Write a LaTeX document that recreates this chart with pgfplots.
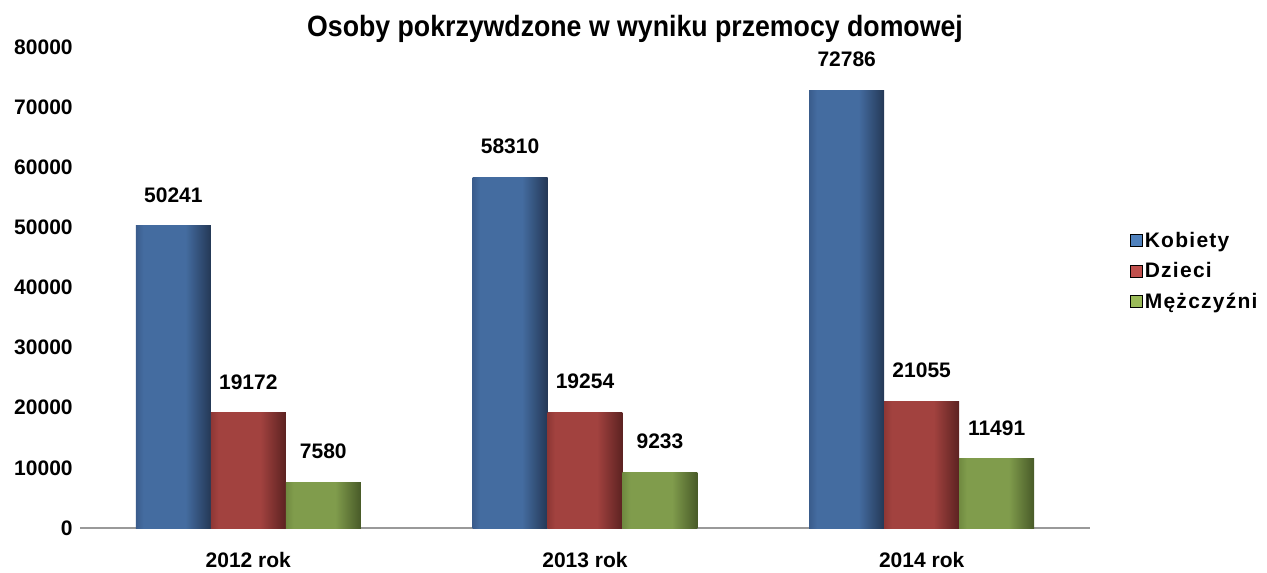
\documentclass[border=0pt]{standalone}
\usepackage{pgfplots}
\pgfplotsset{compat=1.18}
\usepackage{fontspec}
\setmainfont{Liberation Sans}
\usepackage{graphicx}
\definecolor{bL}{RGB}{58,92,140}
\definecolor{bM}{RGB}{68,108,160}
\definecolor{bD}{RGB}{36,56,86}
\definecolor{rL}{RGB}{142,55,53}
\definecolor{rM}{RGB}{162,66,63}
\definecolor{rD}{RGB}{92,34,33}
\definecolor{gL}{RGB}{112,138,64}
\definecolor{gM}{RGB}{128,156,76}
\definecolor{gD}{RGB}{72,90,40}
\definecolor{legB}{RGB}{79,129,189}
\definecolor{legR}{RGB}{192,80,77}
\definecolor{legG}{RGB}{155,187,89}
\pgfdeclarehorizontalshading{bshade}{100bp}{color(0bp)=(bL); color(25bp)=(bL); color(30bp)=(bM); color(58bp)=(bM); color(75bp)=(bD); color(100bp)=(bD)}
\pgfdeclarehorizontalshading{rshade}{100bp}{color(0bp)=(rL); color(25bp)=(rL); color(30bp)=(rM); color(58bp)=(rM); color(75bp)=(rD); color(100bp)=(rD)}
\pgfdeclarehorizontalshading{gshade}{100bp}{color(0bp)=(gL); color(25bp)=(gL); color(30bp)=(gM); color(58bp)=(gM); color(75bp)=(gD); color(100bp)=(gD)}
\pgfplotsset{
  kob/.style={draw=none, shading=bshade, bar shift=-0.2227, forget plot},
  dzi/.style={draw=none, shading=rshade, bar shift=0, forget plot},
  mez/.style={draw=none, shading=gshade, bar shift=0.2227, forget plot},
}
\begin{document}
\begin{tikzpicture}
\path[use as bounding box] (0,0) rectangle (950.25pt,429pt);
\begin{axis}[
  at={(60pt,33pt)}, anchor=south west,
  scale only axis, width=757.5pt, height=360.75pt,
  xmin=-0.5, xmax=2.5, ymin=0, ymax=80000,
  ybar, bar width=0.2227,
  xtick={0,1,2}, xticklabels={2012 rok,2013 rok,2014 rok},
  ytick={0,10000,...,80000},
  scaled y ticks=false,
  /pgf/number format/assume math mode=true,
  yticklabel={\pgfmathprintnumber[fixed,1000 sep={}]{\tick}},
  major tick length=0pt,
  axis x line*=bottom, axis y line*=left,
  x axis line style={draw=gray!80, line width=1pt, -},
  y axis line style={draw=none},
  ticklabel style={font=\fontsize{15.75pt}{18pt}\selectfont\bfseries},
  yticklabel style={xshift=-2pt},
  xticklabel style={yshift=-15pt},
  nodes near coords,
  nodes near coords style={font=\fontsize{15.75pt}{18pt}\selectfont\bfseries, yshift=14pt},
  point meta=explicit symbolic,
  legend style={at={(1.035,0.534)}, anchor=west, draw=none, fill=none,
    font=\fontsize{15.75pt}{18pt}\selectfont\bfseries\addfontfeature{LetterSpace=6}, row sep=6pt,
    legend cell align=left},
  legend image code/.code={\fill[#1] (0pt,-4.5pt) rectangle (9pt,4.5pt);},
  title={\scalebox{0.91}[1]{\fontsize{22pt}{26pt}\selectfont\bfseries Osoby pokrzywdzone w wyniku przemocy domowej}},
  title style={at={(0.5,1)}, anchor=south, yshift=-6pt, xshift=37.5pt},
  clip=false,
]
\addplot[kob] coordinates {(0,50241)[50241]};
\addplot[kob] coordinates {(1,58310)[58310]};
\addplot[kob] coordinates {(2,72786)[72786]};
\addplot[dzi] coordinates {(0,19172)[19172]};
\addplot[dzi] coordinates {(1,19254)[19254]};
\addplot[dzi] coordinates {(2,21055)[21055]};
\addplot[mez] coordinates {(0,7580)[7580]};
\addplot[mez] coordinates {(1,9233)[9233]};
\addplot[mez] coordinates {(2,11491)[11491]};
\addlegendimage{fill=legB}\addlegendentry{Kobiety}
\addlegendimage{fill=legR}\addlegendentry{Dzieci}
\addlegendimage{fill=legG}\addlegendentry{Mężczyźni}
\end{axis}
\end{tikzpicture}
\end{document}
